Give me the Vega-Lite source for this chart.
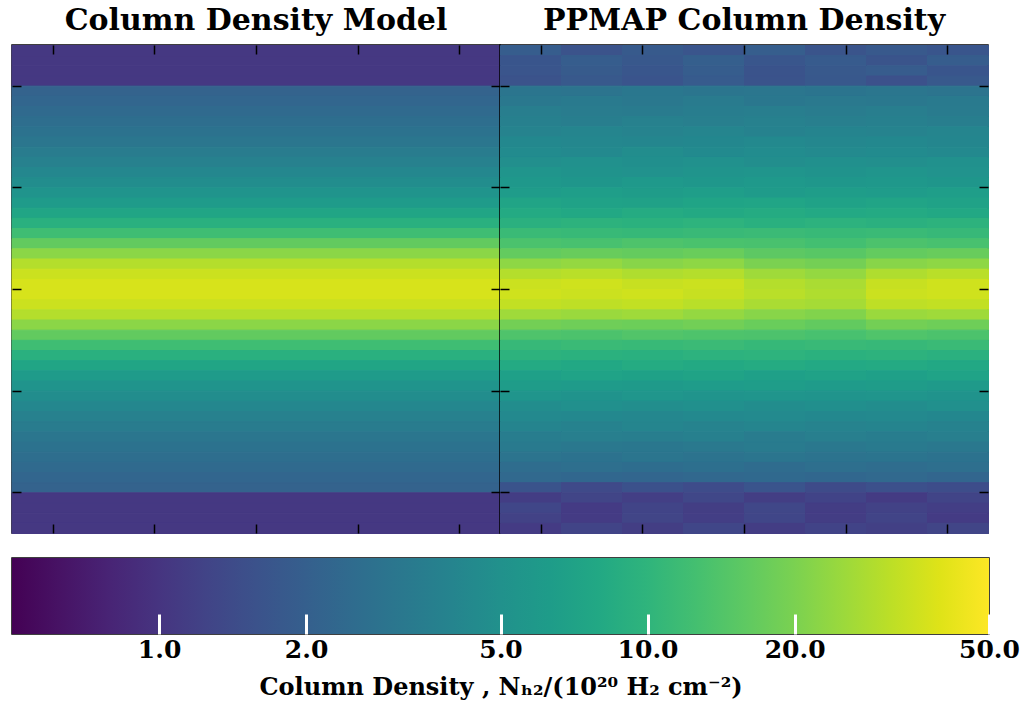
{
  "$schema": "https://vega.github.io/schema/vega-lite/v6.json",
  "padding": {"left": 8, "top": 5, "right": 2, "bottom": 2},
  "background": "white",
  "config": {
    "view": {"stroke": "black", "strokeWidth": 1.5},
    "font": "DejaVu Serif"
  },
  "datasets": {
    "model": [
      {"y":47,"v":1.05},{"y":46,"v":1.05},{"y":45,"v":1.05},{"y":44,"v":1.05},
      {"y":43,"v":2.1},{"y":42,"v":2.25},{"y":41,"v":2.4},{"y":40,"v":2.6},
      {"y":39,"v":2.8},{"y":38,"v":3.05},{"y":37,"v":3.35},{"y":36,"v":3.7},
      {"y":35,"v":4.15},{"y":34,"v":4.7},{"y":33,"v":5.3},{"y":32,"v":6.2},
      {"y":31,"v":7.5},{"y":30,"v":9.3},{"y":29,"v":12},{"y":28,"v":16.5},
      {"y":27,"v":22.5},{"y":26,"v":30},{"y":25,"v":35},{"y":24,"v":38},
      {"y":23,"v":38},{"y":22,"v":35},{"y":21,"v":30},{"y":20,"v":22.5},
      {"y":19,"v":16.5},{"y":18,"v":12},{"y":17,"v":9.3},{"y":16,"v":7.5},
      {"y":15,"v":6.2},{"y":14,"v":5.3},{"y":13,"v":4.7},{"y":12,"v":4.15},
      {"y":11,"v":3.7},{"y":10,"v":3.35},{"y":9,"v":3.05},{"y":8,"v":2.8},
      {"y":7,"v":2.6},{"y":6,"v":2.4},{"y":5,"v":2.25},{"y":4,"v":2.1},
      {"y":3,"v":1.05},{"y":2,"v":1.05},{"y":1,"v":1.05},{"y":0,"v":1.05}
    ],
    "ppmap": [
      {"x":0,"y":47,"v":1.89},{"x":6,"y":47,"v":1.61},{"x":12,"y":47,"v":1.82},{"x":18,"y":47,"v":1.66},{"x":24,"y":47,"v":1.93},{"x":30,"y":47,"v":1.63},{"x":36,"y":47,"v":1.79},{"x":42,"y":47,"v":1.68},
      {"x":0,"y":46,"v":1.69},{"x":6,"y":46,"v":1.91},{"x":12,"y":46,"v":1.75},{"x":18,"y":46,"v":1.96},{"x":24,"y":46,"v":1.71},{"x":30,"y":46,"v":1.85},{"x":36,"y":46,"v":1.64},{"x":42,"y":46,"v":1.89},
      {"x":0,"y":45,"v":1.66},{"x":6,"y":45,"v":1.84},{"x":12,"y":45,"v":1.7},{"x":18,"y":45,"v":1.9},{"x":24,"y":45,"v":1.62},{"x":30,"y":45,"v":1.8},{"x":36,"y":45,"v":1.87},{"x":42,"y":45,"v":1.68},
      {"x":0,"y":44,"v":1.6},{"x":6,"y":44,"v":1.8},{"x":12,"y":44,"v":1.65},{"x":18,"y":44,"v":1.85},{"x":24,"y":44,"v":1.62},{"x":30,"y":44,"v":1.75},{"x":36,"y":44,"v":1.55},{"x":42,"y":44,"v":1.79},
      {"x":0,"y":43,"v":3.0},{"x":6,"y":43,"v":2.91},{"x":12,"y":43,"v":3.09},{"x":18,"y":43,"v":2.97},{"x":24,"y":43,"v":3.06},{"x":30,"y":43,"v":2.94},{"x":36,"y":43,"v":3.03},{"x":42,"y":43,"v":2.91},
      {"x":0,"y":42,"v":3.14},{"x":6,"y":42,"v":3.26},{"x":12,"y":42,"v":3.17},{"x":18,"y":42,"v":3.3},{"x":24,"y":42,"v":3.1},{"x":30,"y":42,"v":3.23},{"x":36,"y":42,"v":3.14},{"x":42,"y":42,"v":3.26},
      {"x":0,"y":41,"v":3.47},{"x":6,"y":41,"v":3.37},{"x":12,"y":41,"v":3.3},{"x":18,"y":41,"v":3.43},{"x":24,"y":41,"v":3.5},{"x":30,"y":41,"v":3.37},{"x":36,"y":41,"v":3.47},{"x":42,"y":41,"v":3.33},
      {"x":0,"y":40,"v":3.6},{"x":6,"y":40,"v":3.49},{"x":12,"y":40,"v":3.71},{"x":18,"y":40,"v":3.56},{"x":24,"y":40,"v":3.67},{"x":30,"y":40,"v":3.53},{"x":36,"y":40,"v":3.64},{"x":42,"y":40,"v":3.49},
      {"x":0,"y":39,"v":3.82},{"x":6,"y":39,"v":3.98},{"x":12,"y":39,"v":3.86},{"x":18,"y":39,"v":4.02},{"x":24,"y":39,"v":3.78},{"x":30,"y":39,"v":3.94},{"x":36,"y":39,"v":3.82},{"x":42,"y":39,"v":3.98},
      {"x":0,"y":38,"v":4.28},{"x":6,"y":38,"v":4.16},{"x":12,"y":38,"v":4.07},{"x":18,"y":38,"v":4.24},{"x":24,"y":38,"v":4.33},{"x":30,"y":38,"v":4.16},{"x":36,"y":38,"v":4.28},{"x":42,"y":38,"v":4.12},
      {"x":0,"y":37,"v":4.5},{"x":6,"y":37,"v":4.37},{"x":12,"y":37,"v":4.64},{"x":18,"y":37,"v":4.46},{"x":24,"y":37,"v":4.59},{"x":30,"y":37,"v":4.41},{"x":36,"y":37,"v":4.55},{"x":42,"y":37,"v":4.37},
      {"x":0,"y":36,"v":4.8},{"x":6,"y":36,"v":5.0},{"x":12,"y":36,"v":4.85},{"x":18,"y":36,"v":5.05},{"x":24,"y":36,"v":4.75},{"x":30,"y":36,"v":4.95},{"x":36,"y":36,"v":4.8},{"x":42,"y":36,"v":5.0},
      {"x":0,"y":35,"v":5.41},{"x":6,"y":35,"v":5.25},{"x":12,"y":35,"v":5.14},{"x":18,"y":35,"v":5.35},{"x":24,"y":35,"v":5.46},{"x":30,"y":35,"v":5.25},{"x":36,"y":35,"v":5.41},{"x":42,"y":35,"v":5.19},
      {"x":0,"y":34,"v":5.8},{"x":6,"y":34,"v":5.63},{"x":12,"y":34,"v":5.97},{"x":18,"y":34,"v":5.74},{"x":24,"y":34,"v":5.92},{"x":30,"y":34,"v":5.68},{"x":36,"y":34,"v":5.86},{"x":42,"y":34,"v":5.63},
      {"x":0,"y":33,"v":6.27},{"x":6,"y":33,"v":6.53},{"x":12,"y":33,"v":6.34},{"x":18,"y":33,"v":6.59},{"x":24,"y":33,"v":6.21},{"x":30,"y":33,"v":6.46},{"x":36,"y":33,"v":6.27},{"x":42,"y":33,"v":6.53},
      {"x":0,"y":32,"v":7.34},{"x":6,"y":32,"v":7.13},{"x":12,"y":32,"v":6.98},{"x":18,"y":32,"v":7.27},{"x":24,"y":32,"v":7.42},{"x":30,"y":32,"v":7.13},{"x":36,"y":32,"v":7.34},{"x":42,"y":32,"v":7.06},
      {"x":0,"y":31,"v":8.2},{"x":6,"y":31,"v":7.95},{"x":12,"y":31,"v":8.45},{"x":18,"y":31,"v":8.12},{"x":24,"y":31,"v":8.36},{"x":30,"y":31,"v":8.04},{"x":36,"y":31,"v":8.28},{"x":42,"y":31,"v":7.95},
      {"x":0,"y":30,"v":9.31},{"x":6,"y":30,"v":9.69},{"x":12,"y":30,"v":9.41},{"x":18,"y":30,"v":9.79},{"x":24,"y":30,"v":9.22},{"x":30,"y":30,"v":9.6},{"x":36,"y":30,"v":9.31},{"x":42,"y":30,"v":9.69},
      {"x":0,"y":29,"v":11.4},{"x":6,"y":29,"v":11.1},{"x":12,"y":29,"v":10.9},{"x":18,"y":29,"v":11.3},{"x":24,"y":29,"v":11.5},{"x":30,"y":29,"v":11.1},{"x":36,"y":29,"v":11.4},{"x":42,"y":29,"v":11.0},
      {"x":0,"y":28,"v":13.5},{"x":6,"y":28,"v":13.1},{"x":12,"y":28,"v":13.9},{"x":18,"y":28,"v":13.4},{"x":24,"y":28,"v":13.2},{"x":30,"y":28,"v":12.6},{"x":36,"y":28,"v":13.6},{"x":42,"y":28,"v":13.1},
      {"x":0,"y":27,"v":16.7},{"x":6,"y":27,"v":17.3},{"x":12,"y":27,"v":16.8},{"x":18,"y":27,"v":17.5},{"x":24,"y":27,"v":15.8},{"x":30,"y":27,"v":15.2},{"x":36,"y":27,"v":16.7},{"x":42,"y":27,"v":17.3},
      {"x":0,"y":26,"v":23},{"x":6,"y":26,"v":24},{"x":12,"y":26,"v":22},{"x":18,"y":26,"v":23},{"x":24,"y":26,"v":20},{"x":30,"y":26,"v":19},{"x":36,"y":26,"v":22},{"x":42,"y":26,"v":23},
      {"x":0,"y":25,"v":30},{"x":6,"y":25,"v":31},{"x":12,"y":25,"v":29},{"x":18,"y":25,"v":30},{"x":24,"y":25,"v":26},{"x":30,"y":25,"v":24},{"x":36,"y":25,"v":29},{"x":42,"y":25,"v":31},
      {"x":0,"y":24,"v":35},{"x":6,"y":24,"v":36},{"x":12,"y":24,"v":34},{"x":18,"y":24,"v":35},{"x":24,"y":24,"v":30},{"x":30,"y":24,"v":28},{"x":36,"y":24,"v":34},{"x":42,"y":24,"v":36},
      {"x":0,"y":23,"v":36},{"x":6,"y":23,"v":35},{"x":12,"y":23,"v":36},{"x":18,"y":23,"v":34},{"x":24,"y":23,"v":31},{"x":30,"y":23,"v":29},{"x":36,"y":23,"v":35},{"x":42,"y":23,"v":36},
      {"x":0,"y":22,"v":33},{"x":6,"y":22,"v":32},{"x":12,"y":22,"v":33},{"x":18,"y":22,"v":31},{"x":24,"y":22,"v":28},{"x":30,"y":22,"v":27},{"x":36,"y":22,"v":32},{"x":42,"y":22,"v":33},
      {"x":0,"y":21,"v":26},{"x":6,"y":21,"v":25},{"x":12,"y":21,"v":26},{"x":18,"y":21,"v":24},{"x":24,"y":21,"v":22},{"x":30,"y":21,"v":21},{"x":36,"y":21,"v":25},{"x":42,"y":21,"v":26},
      {"x":0,"y":20,"v":18.9},{"x":6,"y":20,"v":18.3},{"x":12,"y":20,"v":17.9},{"x":18,"y":20,"v":18.7},{"x":24,"y":20,"v":17.5},{"x":30,"y":20,"v":16.5},{"x":36,"y":20,"v":18.9},{"x":42,"y":20,"v":18.1},
      {"x":0,"y":19,"v":14},{"x":6,"y":19,"v":13.6},{"x":12,"y":19,"v":14.4},{"x":18,"y":19,"v":13.9},{"x":24,"y":19,"v":13.7},{"x":30,"y":19,"v":13.1},{"x":36,"y":19,"v":14.1},{"x":42,"y":19,"v":13.6},
      {"x":0,"y":18,"v":11},{"x":6,"y":18,"v":11.4},{"x":12,"y":18,"v":11.1},{"x":18,"y":18,"v":11.5},{"x":24,"y":18,"v":10.9},{"x":30,"y":18,"v":11.3},{"x":36,"y":18,"v":11},{"x":42,"y":18,"v":11.4},
      {"x":0,"y":17,"v":9.69},{"x":6,"y":17,"v":9.41},{"x":12,"y":17,"v":9.22},{"x":18,"y":17,"v":9.6},{"x":24,"y":17,"v":9.79},{"x":30,"y":17,"v":9.41},{"x":36,"y":17,"v":9.69},{"x":42,"y":17,"v":9.31},
      {"x":0,"y":16,"v":8.2},{"x":6,"y":16,"v":7.95},{"x":12,"y":16,"v":8.45},{"x":18,"y":16,"v":8.12},{"x":24,"y":16,"v":8.36},{"x":30,"y":16,"v":8.04},{"x":36,"y":16,"v":8.28},{"x":42,"y":16,"v":7.95},
      {"x":0,"y":15,"v":6.86},{"x":6,"y":15,"v":7.14},{"x":12,"y":15,"v":6.93},{"x":18,"y":15,"v":7.21},{"x":24,"y":15,"v":6.79},{"x":30,"y":15,"v":7.07},{"x":36,"y":15,"v":6.86},{"x":42,"y":15,"v":7.14},
      {"x":0,"y":14,"v":6.32},{"x":6,"y":14,"v":6.14},{"x":12,"y":14,"v":6.01},{"x":18,"y":14,"v":6.26},{"x":24,"y":14,"v":6.39},{"x":30,"y":14,"v":6.14},{"x":36,"y":14,"v":6.32},{"x":42,"y":14,"v":6.08},
      {"x":0,"y":13,"v":5.4},{"x":6,"y":13,"v":5.24},{"x":12,"y":13,"v":5.56},{"x":18,"y":13,"v":5.35},{"x":24,"y":13,"v":5.51},{"x":30,"y":13,"v":5.29},{"x":36,"y":13,"v":5.45},{"x":42,"y":13,"v":5.24},
      {"x":0,"y":12,"v":4.7},{"x":6,"y":12,"v":4.9},{"x":12,"y":12,"v":4.75},{"x":18,"y":12,"v":4.94},{"x":24,"y":12,"v":4.66},{"x":30,"y":12,"v":4.85},{"x":36,"y":12,"v":4.7},{"x":42,"y":12,"v":4.9},
      {"x":0,"y":11,"v":4.39},{"x":6,"y":11,"v":4.26},{"x":12,"y":11,"v":4.17},{"x":18,"y":11,"v":4.34},{"x":24,"y":11,"v":4.43},{"x":30,"y":11,"v":4.26},{"x":36,"y":11,"v":4.39},{"x":42,"y":11,"v":4.21},
      {"x":0,"y":10,"v":3.9},{"x":6,"y":10,"v":3.78},{"x":12,"y":10,"v":4.02},{"x":18,"y":10,"v":3.86},{"x":24,"y":10,"v":3.98},{"x":30,"y":10,"v":3.82},{"x":36,"y":10,"v":3.94},{"x":42,"y":10,"v":3.78},
      {"x":0,"y":9,"v":3.43},{"x":6,"y":9,"v":3.57},{"x":12,"y":9,"v":3.47},{"x":18,"y":9,"v":3.61},{"x":24,"y":9,"v":3.4},{"x":30,"y":9,"v":3.54},{"x":36,"y":9,"v":3.43},{"x":42,"y":9,"v":3.57},
      {"x":0,"y":8,"v":3.26},{"x":6,"y":8,"v":3.17},{"x":12,"y":8,"v":3.1},{"x":18,"y":8,"v":3.23},{"x":24,"y":8,"v":3.3},{"x":30,"y":8,"v":3.17},{"x":36,"y":8,"v":3.26},{"x":42,"y":8,"v":3.14},
      {"x":0,"y":7,"v":2.9},{"x":6,"y":7,"v":2.81},{"x":12,"y":7,"v":2.99},{"x":18,"y":7,"v":2.87},{"x":24,"y":7,"v":2.96},{"x":30,"y":7,"v":2.84},{"x":36,"y":7,"v":2.93},{"x":42,"y":7,"v":2.81},
      {"x":0,"y":6,"v":2.55},{"x":6,"y":6,"v":2.65},{"x":12,"y":6,"v":2.57},{"x":18,"y":6,"v":2.68},{"x":24,"y":6,"v":2.52},{"x":30,"y":6,"v":2.63},{"x":36,"y":6,"v":2.55},{"x":42,"y":6,"v":2.65},
      {"x":0,"y":5,"v":2.35},{"x":6,"y":5,"v":2.28},{"x":12,"y":5,"v":2.23},{"x":18,"y":5,"v":2.32},{"x":24,"y":5,"v":2.37},{"x":30,"y":5,"v":2.28},{"x":36,"y":5,"v":2.35},{"x":42,"y":5,"v":2.25},
      {"x":0,"y":4,"v":1.62},{"x":6,"y":4,"v":1.38},{"x":12,"y":4,"v":1.56},{"x":18,"y":4,"v":1.43},{"x":24,"y":4,"v":1.65},{"x":30,"y":4,"v":1.4},{"x":36,"y":4,"v":1.53},{"x":42,"y":4,"v":1.44},
      {"x":0,"y":3,"v":1.13},{"x":6,"y":3,"v":1.27},{"x":12,"y":3,"v":1.16},{"x":18,"y":3,"v":1.31},{"x":24,"y":3,"v":1.14},{"x":30,"y":3,"v":1.24},{"x":36,"y":3,"v":1.09},{"x":42,"y":3,"v":1.26},
      {"x":0,"y":2,"v":1.3},{"x":6,"y":2,"v":1.1},{"x":12,"y":2,"v":1.25},{"x":18,"y":2,"v":1.14},{"x":24,"y":2,"v":1.32},{"x":30,"y":2,"v":1.12},{"x":36,"y":2,"v":1.22},{"x":42,"y":2,"v":1.15},
      {"x":0,"y":1,"v":1.22},{"x":6,"y":1,"v":1.1},{"x":12,"y":1,"v":1.28},{"x":18,"y":1,"v":1.15},{"x":24,"y":1,"v":1.3},{"x":30,"y":1,"v":1.12},{"x":36,"y":1,"v":1.25},{"x":42,"y":1,"v":1.1},
      {"x":0,"y":0,"v":1.1},{"x":6,"y":0,"v":1.26},{"x":12,"y":0,"v":1.14},{"x":18,"y":0,"v":1.3},{"x":24,"y":0,"v":1.12},{"x":30,"y":0,"v":1.24},{"x":36,"y":0,"v":1.18},{"x":42,"y":0,"v":1.28}
    ],
    "cbar": [{"lo": 0.5, "hi": 50}]
  },
  "vconcat": [
    {
      "hconcat": [
        {
          "title": {"text": "Column Density Model", "fontSize": 30, "font": "DejaVu Serif", "fontWeight": "bold", "color": "black", "anchor": "middle", "offset": 8},
          "width": 488,
          "height": 488,
          "data": {"name": "model"},
          "layer": [
            {
              "mark": {"type": "rect", "strokeWidth": 1},
              "encoding": {
                "x": {"datum": 0, "type": "quantitative", "scale": {"domain": [0, 48], "nice": false, "zero": false}, "axis": null},
                "x2": {"datum": 48},
                "y": {"field": "y", "type": "quantitative", "bin": {"binned": true, "step": 1}, "scale": {"domain": [0, 48], "nice": false, "zero": false},
                      "axis": {"orient": "left", "zindex": 2, "values": [4, 14, 24, 34, 44], "labels": false, "title": null, "domain": false, "grid": false, "tickSize": -9, "tickColor": "black", "tickWidth": 1.5}},
                "color": {"field": "v", "type": "quantitative", "scale": {"type": "log", "domain": [0.5, 50], "scheme": "viridis"}, "legend": null},
                "stroke": {"field": "v", "type": "quantitative", "scale": {"type": "log", "domain": [0.5, 50], "scheme": "viridis"}, "legend": null}
              }
            },
            {
              "mark": {"type": "point", "opacity": 0},
              "encoding": {
                "x": {"field": "y", "type": "quantitative", "scale": {"domain": [0, 48], "nice": false, "zero": false},
                      "axis": {"orient": "bottom", "zindex": 2, "values": [4, 14, 24, 34, 44], "labels": false, "title": null, "domain": false, "grid": false, "tickSize": -9, "tickColor": "black", "tickWidth": 1.5}},
                "y": {"field": "y", "type": "quantitative", "scale": {"domain": [0, 48], "nice": false, "zero": false},
                      "axis": {"orient": "right", "zindex": 2, "values": [4, 14, 24, 34, 44], "labels": false, "title": null, "domain": false, "grid": false, "tickSize": -9, "tickColor": "black", "tickWidth": 1.5}}
              }
            },
            {
              "mark": {"type": "point", "opacity": 0},
              "encoding": {
                "x": {"field": "y", "type": "quantitative", "scale": {"domain": [0, 48], "nice": false, "zero": false},
                      "axis": {"orient": "top", "zindex": 2, "values": [4, 14, 24, 34, 44], "labels": false, "title": null, "domain": false, "grid": false, "tickSize": -9, "tickColor": "black", "tickWidth": 1.5}},
                "y": {"field": "y", "type": "quantitative", "scale": {"domain": [0, 48], "nice": false, "zero": false}, "axis": null}
              }
            }
          ],
          "resolve": {"axis": {"x": "independent", "y": "independent"}}
        },
        {
          "title": {"text": "PPMAP Column Density", "fontSize": 30, "font": "DejaVu Serif", "fontWeight": "bold", "color": "black", "anchor": "middle", "offset": 8},
          "width": 488,
          "height": 488,
          "data": {"name": "ppmap"},
          "layer": [
            {
              "mark": {"type": "rect", "strokeWidth": 1},
              "encoding": {
                "x": {"field": "x", "type": "quantitative", "bin": {"binned": true, "step": 6}, "scale": {"domain": [0, 48], "nice": false, "zero": false},
                      "axis": {"orient": "bottom", "zindex": 2, "values": [4, 14, 24, 34, 44], "labels": false, "title": null, "domain": false, "grid": false, "tickSize": -9, "tickColor": "black", "tickWidth": 1.5}},
                "y": {"field": "y", "type": "quantitative", "bin": {"binned": true, "step": 1}, "scale": {"domain": [0, 48], "nice": false, "zero": false},
                      "axis": {"orient": "left", "zindex": 2, "values": [4, 14, 24, 34, 44], "labels": false, "title": null, "domain": false, "grid": false, "tickSize": -9, "tickColor": "black", "tickWidth": 1.5}},
                "color": {"field": "v", "type": "quantitative", "scale": {"type": "log", "domain": [0.5, 50], "scheme": "viridis"}, "legend": null},
                "stroke": {"field": "v", "type": "quantitative", "scale": {"type": "log", "domain": [0.5, 50], "scheme": "viridis"}, "legend": null}
              }
            },
            {
              "mark": {"type": "point", "opacity": 0},
              "encoding": {
                "x": {"field": "y", "type": "quantitative", "scale": {"domain": [0, 48], "nice": false, "zero": false},
                      "axis": {"orient": "top", "zindex": 2, "values": [4, 14, 24, 34, 44], "labels": false, "title": null, "domain": false, "grid": false, "tickSize": -9, "tickColor": "black", "tickWidth": 1.5}},
                "y": {"field": "y", "type": "quantitative", "scale": {"domain": [0, 48], "nice": false, "zero": false},
                      "axis": {"orient": "right", "zindex": 2, "values": [4, 14, 24, 34, 44], "labels": false, "title": null, "domain": false, "grid": false, "tickSize": -9, "tickColor": "black", "tickWidth": 1.5}}
              }
            }
          ],
          "resolve": {"axis": {"x": "independent", "y": "independent"}}
        }
      ],
      "spacing": 0,
      "bounds": "flush"
    },
    {
      "width": 977,
      "height": 76,
      "data": {"name": "cbar"},
      "mark": {
        "type": "rect",
        "fill": {
          "gradient": "linear", "x1": 0, "y1": 0, "x2": 1, "y2": 0,
          "stops": [
            {"offset": 0.0, "color": "#440154"}, {"offset": 0.05, "color": "#471365"},
            {"offset": 0.1, "color": "#482475"}, {"offset": 0.15, "color": "#463480"},
            {"offset": 0.2, "color": "#414487"}, {"offset": 0.25, "color": "#3b528b"},
            {"offset": 0.3, "color": "#355f8d"}, {"offset": 0.35, "color": "#2f6c8e"},
            {"offset": 0.4, "color": "#2a788e"}, {"offset": 0.45, "color": "#25848e"},
            {"offset": 0.5, "color": "#21918c"}, {"offset": 0.55, "color": "#1e9c89"},
            {"offset": 0.6, "color": "#22a884"}, {"offset": 0.65, "color": "#2fb47c"},
            {"offset": 0.7, "color": "#44bf70"}, {"offset": 0.75, "color": "#5ec962"},
            {"offset": 0.8, "color": "#7ad151"}, {"offset": 0.85, "color": "#9bd93c"},
            {"offset": 0.9, "color": "#bddf26"}, {"offset": 0.95, "color": "#dfe318"},
            {"offset": 1.0, "color": "#fde725"}
          ]
        }
      },
      "encoding": {
        "x": {"field": "lo", "type": "quantitative", "scale": {"type": "log", "domain": [0.5, 50], "nice": false},
              "axis": {"orient": "bottom", "zindex": 2, "values": [1, 2, 5, 10, 20, 50], "format": ".1f", "domain": false, "grid": false,
                       "tickColor": "white", "tickSize": -20, "tickWidth": 3, "labels": true,
                       "labelFont": "DejaVu Serif", "labelFontWeight": "bold", "labelFontSize": 25, "labelColor": "black",
                       "labelPadding": 23, "labelFlush": false, "labelOverlap": false, "labelBound": false,
                       "title": "Column Density , N\u2095\u2082/(10\u00b2\u2070 H\u2082 cm\u207b\u00b2)",
                       "titleFont": "DejaVu Serif", "titleFontWeight": "bold", "titleFontSize": 24, "titleColor": "black", "titlePadding": 13}},
        "x2": {"field": "hi"},
        "y": {"value": 0},
        "y2": {"value": 76}
      }
    }
  ],
  "spacing": 20
}
